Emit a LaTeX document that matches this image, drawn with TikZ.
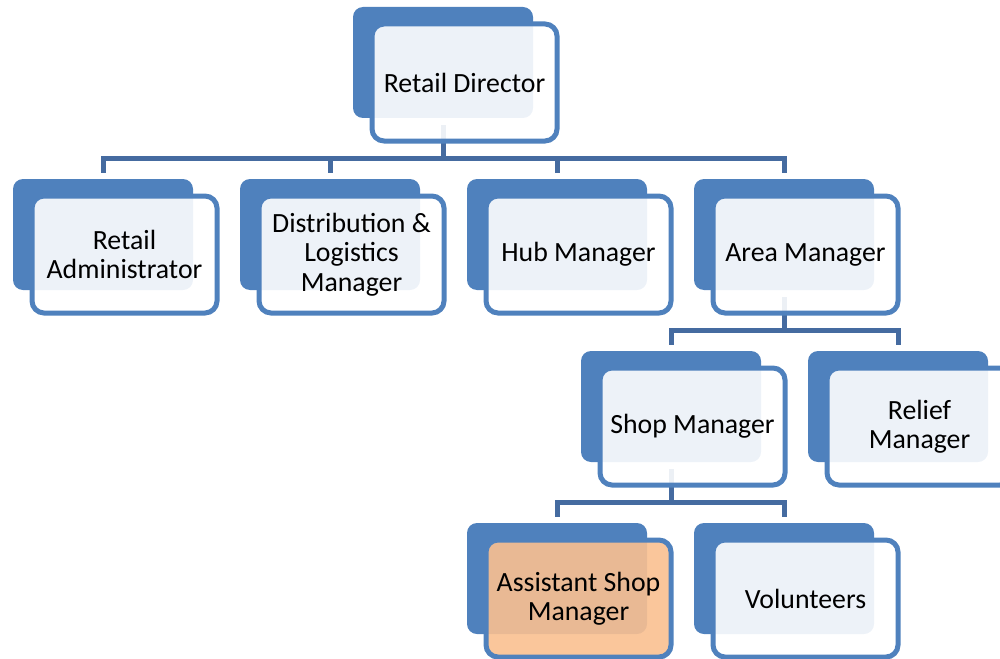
\documentclass[tikz,border=0pt]{standalone}
\usepackage{fontspec}
\setmainfont{Carlito}
\usetikzlibrary{calc}
\definecolor{boxblue}{RGB}{79,129,189}
\definecolor{connblue}{RGB}{69,107,160}
\definecolor{asstorange}{RGB}{250,192,144}
\tikzset{
 backbox/.style={fill=boxblue, draw=none, rounded corners=10pt, minimum width=180pt, minimum height=111pt, anchor=north west, inner sep=0pt, outer sep=0pt},
 frontbox/.style={draw=boxblue, line width=5pt, fill=white, fill opacity=0.9, draw opacity=1, text opacity=1, rounded corners=12pt, minimum width=185pt, minimum height=117pt, anchor=north west, inner sep=0pt, outer sep=0pt, align=center, font=\fontsize{27.8}{29.5}\selectfont, text=black},
 conn/.style={draw=connblue, line width=5pt, line join=miter},
}
\newcommand\mkback[3]{\node[backbox] (#1-b) at (#2,#3) {};}
\newcommand\mkfront[3]{\node[frontbox,#3] (#1) at ($(#1-b.north west)+(19,17)$) {#2};}
\newcommand\mklink[2]{\draw[conn] ($(#1-b.south)+(0,7)$) |- ($(#2-b.north)+(0,-21)$) -- ($(#2-b.north)+(0,-6)$);}
\begin{document}
\begin{tikzpicture}[x=1pt,y=-1pt]
\useasboundingbox (0,0) rectangle (1000,658);
% back rectangles
\mkback{rd}{353}{7}
\mkback{ra}{13}{179}
\mkback{dl}{240}{179}
\mkback{hm}{467}{179}
\mkback{am}{694}{179}
\mkback{sm}{581}{351}
\mkback{rm}{808}{351}
\mkback{as}{467}{523}
\mkback{vo}{694}{523}
% connectors
\mklink{rd}{ra}
\mklink{rd}{dl}
\mklink{rd}{hm}
\mklink{rd}{am}
\mklink{am}{sm}
\mklink{am}{rm}
\mklink{sm}{as}
\mklink{sm}{vo}
% front boxes
\mkfront{rd}{Retail Director}{}
\mkfront{ra}{Retail\\Administrator}{}
\mkfront{dl}{Distribution \&\\Logistics\\Manager}{}
\mkfront{hm}{Hub Manager}{}
\mkfront{am}{Area Manager}{}
\mkfront{sm}{Shop Manager}{}
\mkfront{rm}{Relief\\Manager}{}
\mkfront{as}{Assistant Shop\\Manager}{fill=asstorange}
\mkfront{vo}{Volunteers}{}
\end{tikzpicture}
\end{document}
